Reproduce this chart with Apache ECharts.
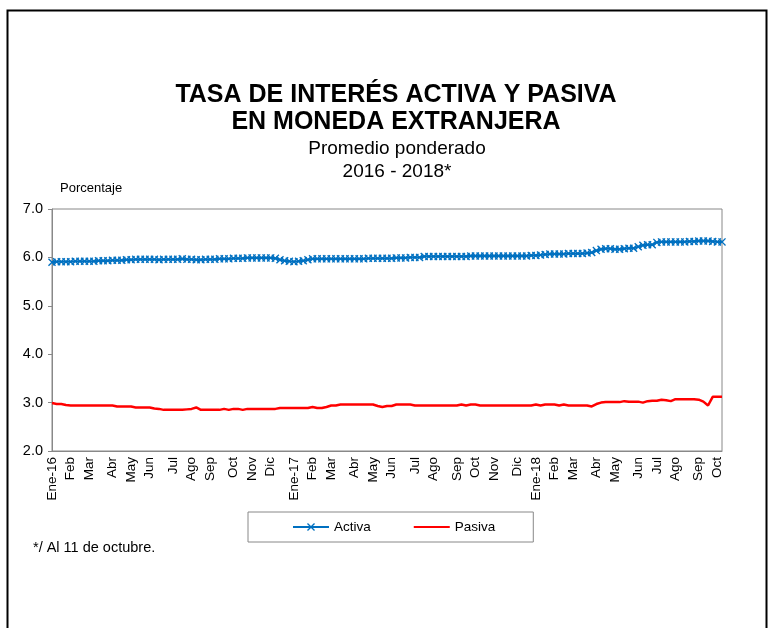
<!DOCTYPE html>
<html>
<head>
<meta charset="utf-8">
<script src="https://cdn.jsdelivr.net/npm/echarts@6/dist/echarts.min.js"></script>
<style>
  html, body { margin: 0; padding: 0; background: #fff; }
  #chart { width: 770px; height: 628px; }
</style>
</head>
<body>
<div id="chart"></div>
<script type="text/javascript">
// meses del eje (etiqueta en la primera semana de cada mes)
var meses = ['Ene-16','Feb','Mar','Abr','May','Jun','Jul','Ago','Sep','Oct','Nov','Dic',
             'Ene-17','Feb','Mar','Abr','May','Jun','Jul','Ago','Sep','Oct','Nov','Dic',
             'Ene-18','Feb','Mar','Abr','May','Jun','Jul','Ago','Sep','Oct'];
// semanas (jueves) por mes
var semanasPorMes = [4,4,5,4,4,5,4,4,5,4,4,5,
                     4,4,5,4,4,5,4,5,4,4,5,4,
                     4,4,5,4,5,4,4,5,4,2];

var activa = [
    5.90,5.91,5.91,5.91, 5.91,5.92,5.92,5.92, 5.92,5.92,5.93,5.93,5.93, 5.94,5.94,5.94,5.95,
    5.95,5.96,5.96,5.96, 5.96,5.96,5.95,5.96,5.96, 5.96,5.96,5.97,5.96, 5.96,5.95,5.95,5.96,
    5.96,5.96,5.97,5.97,5.97, 5.98,5.98,5.98,5.99, 5.99,5.99,5.99,5.99, 5.99,5.98,5.95,5.93,5.92,
    5.91,5.92,5.93,5.95, 5.97,5.97,5.97,5.97, 5.97,5.97,5.97,5.97,5.97, 5.97,5.97,5.97,5.98,
    5.98,5.98,5.98,5.98, 5.98,5.99,5.99,5.99,6.00, 6.00,6.00,6.02,6.02, 6.02,6.02,6.02,6.02,6.02,
    6.02,6.02,6.02,6.03, 6.03,6.03,6.03,6.03, 6.03,6.03,6.03,6.03,6.03, 6.03,6.03,6.03,6.04,
    6.04,6.05,6.06,6.07, 6.07,6.07,6.07,6.08, 6.08,6.08,6.08,6.09,6.10, 6.14,6.17,6.18,6.18,
    6.17,6.17,6.18,6.19,6.19, 6.22,6.25,6.26,6.26, 6.31,6.32,6.32,6.32, 6.32,6.32,6.32,6.33,6.33,
    6.34,6.34,6.34,6.33, 6.32,6.32
];

var pasiva = [
    2.99,2.97,2.97,2.95, 2.94,2.94,2.94,2.94, 2.94,2.94,2.94,2.94,2.94, 2.94,2.92,2.92,2.92,
    2.92,2.90,2.90,2.90, 2.90,2.88,2.87,2.85,2.85, 2.85,2.85,2.85,2.86, 2.87,2.90,2.85,2.85,
    2.85,2.85,2.85,2.87,2.85, 2.87,2.87,2.85,2.87, 2.87,2.87,2.87,2.87, 2.87,2.87,2.89,2.89,2.89,
    2.89,2.89,2.89,2.89, 2.91,2.89,2.89,2.91, 2.94,2.94,2.96,2.96,2.96, 2.96,2.96,2.96,2.96,
    2.96,2.93,2.91,2.93, 2.93,2.96,2.96,2.96,2.96, 2.94,2.94,2.94,2.94, 2.94,2.94,2.94,2.94,2.94,
    2.94,2.96,2.94,2.96, 2.96,2.94,2.94,2.94, 2.94,2.94,2.94,2.94,2.94, 2.94,2.94,2.94,2.94,
    2.96,2.94,2.96,2.96, 2.96,2.94,2.96,2.94, 2.94,2.94,2.94,2.94,2.92, 2.97,3.00,3.01,3.01,
    3.01,3.01,3.03,3.02,3.02, 3.02,3.00,3.03,3.04, 3.04,3.06,3.05,3.03, 3.07,3.07,3.07,3.07,3.07,
    3.06,3.02,2.94,3.12, 3.12,3.12
];

var categorias = [];
for (var i = 0; i < meses.length; i++) {
    for (var w = 0; w < semanasPorMes[i]; w++) {
        categorias.push(meses[i] + '#' + w);
    }
}

var fuente = 'Liberation Sans, Arial, sans-serif';
var xMarca = 'path://M0,1.2 L1.2,0 L5,3.8 L8.8,0 L10,1.2 L6.2,5 L10,8.8 L8.8,10 L5,6.2 L1.2,10 L0,8.8 L3.8,5 Z';

var option = {
    backgroundColor: '#ffffff',
    animation: false,
    textStyle: { fontFamily: fuente },
    title: [{
        text: 'TASA DE INTERÉS ACTIVA Y PASIVA\nEN MONEDA EXTRANJERA',
        left: 391,
        textAlign: 'center',
        top: 77,
        textStyle: { fontSize: 25, fontWeight: 'bold', color: '#000', lineHeight: 27 }
    }, {
        text: 'Promedio ponderado\n2016 - 2018*',
        left: 392,
        textAlign: 'center',
        top: 132,
        textStyle: { fontSize: 19, fontWeight: 'normal', color: '#000', lineHeight: 23 }
    }],
    graphic: [{
        type: 'rect',
        left: 5, top: 8,
        shape: { width: 759, height: 640 },
        style: { fill: 'none', stroke: '#000', lineWidth: 2 }
    }, {
        type: 'text',
        left: 60, top: 182,
        style: { text: 'Porcentaje', fontSize: 13, fill: '#000', fontFamily: fuente }
    }, {
        type: 'text',
        left: 33, top: 540,
        style: { text: '*/ Al 11 de octubre.', fontSize: 14.5, fill: '#000', fontFamily: fuente }
    }],
    legend: {
        left: 248,
        top: 512,
        padding: [8, 38, 8, 44],
        itemGap: 42,
        itemWidth: 36,
        itemHeight: 10,
        borderColor: '#888',
        borderWidth: 1,
        textStyle: { fontSize: 13.5, color: '#000' },
        data: [{ name: 'Activa' }, { name: 'Pasiva', itemStyle: { opacity: 0 } }]
    },
    grid: {
        left: 52, right: 48, top: 209, bottom: 177,
        show: true,
        borderColor: '#888',
        borderWidth: 1,
        containLabel: false
    },
    xAxis: {
        type: 'category',
        boundaryGap: false,
        data: categorias,
        axisLine: { lineStyle: { color: '#888' } },
        axisTick: { show: false },
        axisLabel: {
            rotate: 90,
            fontSize: 13.5,
            color: '#000',
            margin: 6,
            interval: function (idx, val) { return val.split('#')[1] === '0'; },
            formatter: function (val) { return val.split('#')[0]; }
        },
        splitLine: { show: false }
    },
    yAxis: {
        type: 'value',
        min: 2, max: 7, interval: 1,
        axisLine: { show: true, lineStyle: { color: '#888' } },
        axisTick: { show: true, length: 4, lineStyle: { color: '#888' } },
        axisLabel: {
            fontSize: 14.5, color: '#000', margin: 9,
            formatter: function (v) { return v.toFixed(1); }
        },
        splitLine: { show: false }
    },
    series: [{
        name: 'Activa',
        type: 'line',
        data: activa,
        symbol: xMarca,
        symbolSize: 8,
        showAllSymbol: true,
        lineStyle: { color: '#0070C0', width: 2.2 },
        itemStyle: { color: '#0070C0' }
    }, {
        name: 'Pasiva',
        type: 'line',
        data: pasiva,
        symbol: 'none',
        lineStyle: { color: '#FF0000', width: 2.5 },
        itemStyle: { color: '#FF0000' }
    }]
};

var chart = echarts.init(document.getElementById('chart'));
chart.setOption(option);
</script>
</body>
</html>
